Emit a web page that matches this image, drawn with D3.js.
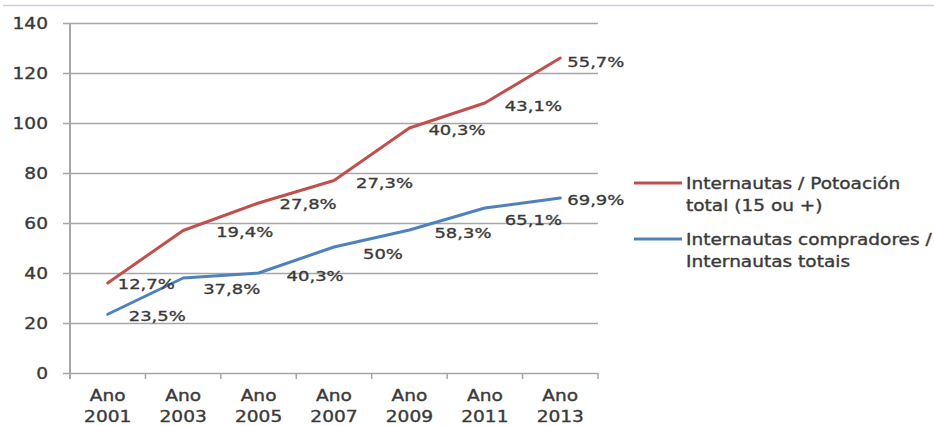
<!DOCTYPE html>
<html>
<head>
<meta charset="utf-8">
<script src="https://cdn.jsdelivr.net/npm/d3@7"></script>
<style>
  html, body { margin: 0; padding: 0; background: #ffffff; }
  svg { display: block; }
  text { font-family: "DejaVu Sans", Verdana, sans-serif; fill: #3a3a3a; stroke: #3a3a3a; stroke-width: 0.35px; }
</style>
</head>
<body>
<svg id="chart" width="934" height="426"></svg>
<script>
// ---- data ----
const categories = ["Ano 2001", "Ano 2003", "Ano 2005", "Ano 2007", "Ano 2009", "Ano 2011", "Ano 2013"];
const seriesNames = ["Internautas / Potoación total (15 ou +)", "Internautas compradores / Internautas totais"];
const poblacionValues = [36, 57, 68, 77, 98, 108, 126];
const compradoresValues = [23.5, 38, 40, 50.4, 57.2, 66, 70];
const poblacionLabels = ["12,7%", "19,4%", "27,8%", "27,3%", "40,3%", "43,1%", "55,7%"];
const compradoresLabels = ["23,5%", "37,8%", "40,3%", "50%", "58,3%", "65,1%", "69,9%"];
const yTicks = [0, 20, 40, 60, 80, 100, 120, 140];

// ---- layout / style (not data) ----
const colors = ["#c0504d", "#4f81bd"];
const labelNudge = [
  [[10, 6], [33, 6], [21, 6], [22, 7], [19, 7], [20, 8], [7, 9]],
  [[21, 7], [20, 16], [28, 8], [29, 12], [25, 8], [20, 17], [7, 7]]
];
const SX = 1.24; // horizontal stretch of the text in the picture

const svg = d3.select("#chart");
const plotLeft = 70, plotRight = 598, plotTop = 23, plotBottom = 373;

const x = d3.scaleBand().domain(categories).range([plotLeft, plotRight]);
const y = d3.scaleLinear().domain([0, 140]).range([plotBottom, plotTop]);

function stext(g, tx, ty, str, anchor, size, sx) {
  return g.append("text")
    .attr("transform", `translate(${tx},${ty}) scale(${sx || SX},1)`)
    .attr("text-anchor", anchor || "start")
    .style("font-size", (size || 15) + "px")
    .text(str);
}

// top border
svg.append("line")
  .attr("x1", 3).attr("x2", 934).attr("y1", 5.5).attr("y2", 5.5)
  .attr("stroke", "#c7d0e2").attr("stroke-width", 1.5);

// gridlines + y axis
const yAxis = d3.axisLeft(y).tickValues(yTicks).tickSize(-(plotRight - plotLeft)).tickFormat("");
const gy = svg.append("g").attr("transform", `translate(${plotLeft},0)`).call(yAxis);
gy.select(".domain").remove();
gy.selectAll(".tick line")
  .attr("x1", -7)
  .attr("stroke", "#a6a6a6").attr("stroke-width", 1.5);

yTicks.forEach(v => {
  stext(svg, 48, y(v) + 6, String(v), "end", 15);
});

// y axis line
svg.append("line")
  .attr("x1", plotLeft).attr("x2", plotLeft).attr("y1", plotTop).attr("y2", plotBottom + 6)
  .attr("stroke", "#a6a6a6").attr("stroke-width", 2);

// x axis ticks (at category boundaries)
const boundaries = categories.map(c => x(c)).concat([plotRight]);
svg.selectAll("line.xtick").data(boundaries).enter().append("line")
  .attr("class", "xtick")
  .attr("x1", d => d).attr("x2", d => d)
  .attr("y1", plotBottom).attr("y2", plotBottom + 6)
  .attr("stroke", "#a6a6a6").attr("stroke-width", 1.5);

// x labels
categories.forEach(c => {
  const parts = c.split(" ");
  const cx = x(c) + x.bandwidth() / 2;
  stext(svg, cx, 401, parts[0], "middle", 15);
  stext(svg, cx, 422, parts[1], "middle", 15);
});

// lines
const allValues = [poblacionValues, compradoresValues];
const allLabels = [poblacionLabels, compradoresLabels];
const line = d3.line()
  .x((d, i) => x(categories[i]) + x.bandwidth() / 2)
  .y(d => y(d));

allValues.forEach((vals, s) => {
  svg.append("path")
    .datum(vals)
    .attr("d", line)
    .attr("fill", "none")
    .attr("stroke", colors[s])
    .attr("stroke-width", 3)
    .attr("stroke-linejoin", "round")
    .attr("stroke-linecap", "round");
});

// data labels
allValues.forEach((vals, s) => {
  vals.forEach((v, i) => {
    const px = x(categories[i]) + x.bandwidth() / 2;
    const py = y(v);
    stext(svg, px + labelNudge[s][i][0], py + labelNudge[s][i][1], allLabels[s][i], "start", 14.5);
  });
});

// legend
const legendRows = [
  { lineY: 183, lines: ["Internautas / Potoación", "total (15 ou +)"], base: 189 },
  { lineY: 239, lines: ["Internautas compradores /", "Internautas totais"], base: 245 }
];
legendRows.forEach((r, s) => {
  svg.append("line")
    .attr("x1", 634).attr("x2", 682).attr("y1", r.lineY).attr("y2", r.lineY)
    .attr("stroke", colors[s]).attr("stroke-width", 3);
  r.lines.forEach((t, k) => {
    stext(svg, 686, r.base + k * 22, t, "start", 15, 1.235);
  });
});
</script>
</body>
</html>
